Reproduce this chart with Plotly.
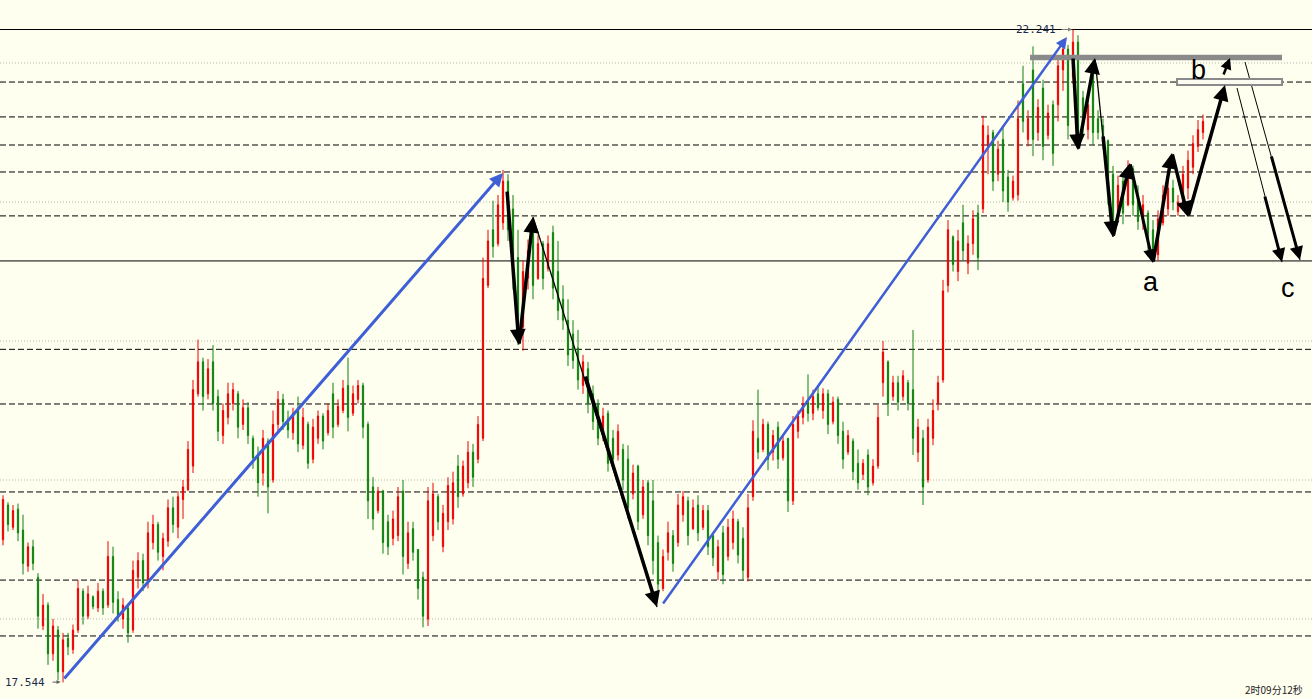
import plotly.graph_objects as go

# ---------------- data (price candles, bar index = position) ----------------
opens = [
18.57,18.82,18.66,18.79,18.64,18.38,18.52,18.30,17.95,18.10,
17.75,17.92,17.62,17.86,17.78,17.92,18.20,18.02,18.16,18.08,
18.20,18.10,18.45,18.14,18.00,18.08,17.92,18.30,18.42,18.28,
18.55,18.68,18.45,18.56,18.80,18.66,18.86,18.93,19.10,19.62,
19.85,19.62,19.85,19.60,19.32,19.45,19.55,19.62,19.40,19.52,
19.30,19.18,19.05,19.28,19.00,19.40,19.58,19.44,19.34,19.50,
19.25,19.40,19.15,19.30,19.46,19.34,19.62,19.40,19.50,19.68,
19.48,19.58,19.68,19.40,18.95,18.78,18.92,18.70,18.58,18.60,
18.92,18.40,18.65,18.50,18.30,18.00,18.60,18.88,18.52,18.70,
18.72,19.10,18.90,18.98,19.20,19.15,19.30,20.40,20.80,20.70,
20.85,21.15,20.95,20.60,20.10,20.45,20.78,20.45,20.70,20.52,
20.78,20.50,20.30,20.15,20.05,19.95,19.68,19.80,19.62,19.55,
19.32,19.48,19.30,19.18,19.22,19.15,18.90,19.10,18.75,18.98,
18.85,18.55,18.22,18.48,18.60,18.55,18.75,18.85,18.65,18.82,
18.66,18.78,18.60,18.34,18.62,18.45,18.55,18.70,18.58,18.30,
18.88,19.30,19.22,19.40,19.20,19.38,19.16,19.30,18.85,19.35,
19.45,19.56,19.48,19.62,19.50,19.62,19.42,19.58,19.35,19.20,
19.28,19.12,19.04,19.18,18.98,19.10,19.70,19.85,19.60,19.70,
19.60,19.70,19.65,19.20,19.30,19.00,19.30,19.55,19.72,20.40,
20.75,20.50,20.85,20.56,20.70,20.92,20.95,21.40,21.50,21.20,
21.45,21.18,21.03,21.05,21.85,21.45,21.95,21.50,21.82,21.48,
21.70,21.70,21.95,22.10,21.90,22.15,21.75,21.52,21.95,21.60,
21.55,21.44,21.20,20.92,21.15,20.98,21.24,21.05,20.85,20.92,
20.80,20.62,20.85,20.95,21.10,20.93,20.98,21.10,21.25,21.40,
21.50]

highs = [
18.89,18.84,18.82,18.83,18.75,18.55,18.57,18.33,18.18,18.12,
18.00,17.95,17.90,17.90,17.96,18.28,18.22,18.24,18.17,18.26,
18.22,18.56,18.52,18.20,18.15,18.10,18.42,18.48,18.47,18.70,
18.75,18.70,18.62,18.86,18.88,18.92,19.00,19.28,19.72,20.01,
19.88,19.87,19.97,19.65,19.55,19.70,19.70,19.64,19.58,19.56,
19.32,19.24,19.36,19.30,19.50,19.64,19.62,19.50,19.52,19.60,
19.52,19.42,19.44,19.50,19.48,19.55,19.70,19.58,19.72,19.88,
19.68,19.72,19.70,19.42,19.02,18.95,18.93,18.75,18.78,18.95,
19.00,18.70,18.70,18.50,18.34,18.95,18.98,18.90,18.82,19.02,
19.06,19.18,19.14,19.28,19.26,19.46,20.60,20.80,21.01,21.05,
21.23,21.20,21.05,20.80,20.58,20.73,20.87,20.76,20.72,20.76,
20.83,20.72,20.40,20.30,20.15,20.08,19.90,19.85,19.68,19.58,
19.52,19.50,19.36,19.40,19.26,19.25,19.11,19.11,19.00,19.00,
19.00,18.60,18.50,18.70,18.64,18.90,18.92,18.88,18.86,18.89,
18.82,18.82,18.62,18.57,18.67,18.72,18.78,18.72,18.66,18.90,
19.43,19.65,19.44,19.42,19.36,19.42,19.33,19.30,19.46,19.50,
19.60,19.76,19.65,19.68,19.66,19.65,19.60,19.60,19.42,19.36,
19.30,19.22,19.15,19.22,19.15,19.54,20.00,19.86,19.75,19.75,
19.79,19.72,20.08,19.44,19.36,19.44,19.58,19.75,20.44,20.87,
20.76,20.80,20.98,20.76,20.94,20.98,21.62,21.55,21.52,21.44,
21.55,21.23,21.19,21.73,21.98,21.66,22.12,21.74,21.88,21.70,
21.73,22.05,22.17,22.13,22.241,22.20,21.80,21.78,22.02,21.66,
21.60,21.45,21.26,21.19,21.20,21.30,21.26,21.12,21.05,20.94,
20.87,20.94,21.12,21.16,21.16,21.05,21.26,21.37,21.48,21.59,
21.63]

lows = [
18.53,18.63,18.64,18.56,18.32,18.34,18.35,17.93,17.92,17.67,
17.70,17.56,17.544,17.74,17.75,17.90,17.96,18.00,18.07,18.05,
18.03,18.08,18.04,17.98,17.93,17.83,17.90,18.22,18.20,18.22,
18.50,18.42,18.35,18.52,18.62,18.58,18.72,18.92,19.05,19.60,
19.50,19.58,19.50,19.28,19.26,19.40,19.50,19.30,19.36,19.26,
19.08,18.88,18.96,18.76,18.98,19.35,19.36,19.30,19.29,19.20,
19.22,19.08,19.12,19.26,19.22,19.32,19.30,19.38,19.48,19.35,
19.46,19.55,19.30,18.72,18.64,18.76,18.47,18.46,18.53,18.56,
18.32,18.36,18.42,18.14,17.94,17.95,18.56,18.64,18.48,18.64,
18.68,18.80,18.88,18.94,18.95,19.12,19.28,20.38,20.60,20.68,
20.80,20.72,20.37,19.97,19.93,20.37,20.30,20.44,20.37,20.50,
20.30,20.15,20.08,19.82,19.80,19.65,19.62,19.48,19.36,19.25,
19.28,19.06,19.08,19.14,18.93,18.72,18.86,18.64,18.72,18.53,
18.32,18.17,18.20,18.42,18.34,18.52,18.70,18.53,18.64,18.56,
18.64,18.46,18.38,18.28,18.25,18.42,18.50,18.40,18.28,18.27,
18.85,19.15,19.20,19.07,19.14,19.08,19.14,18.77,18.82,19.30,
19.40,19.42,19.43,19.50,19.44,19.33,19.40,19.26,19.08,19.18,
19.00,18.93,19.00,18.89,18.96,19.08,19.60,19.46,19.57,19.50,
19.57,19.50,19.18,19.13,18.82,18.98,19.25,19.50,19.70,20.35,
20.50,20.43,20.58,20.48,20.62,20.51,20.92,21.20,21.08,21.15,
21.00,20.93,21.01,21.01,21.50,21.40,21.33,21.44,21.30,21.45,
21.26,21.58,21.80,21.45,21.85,21.38,21.48,21.45,21.41,21.45,
21.38,20.98,20.77,20.90,20.84,20.97,20.90,20.80,20.80,20.65,
20.57,20.58,20.83,20.90,20.94,20.90,20.94,21.02,21.20,21.36,
21.45]

closes = [
18.86,18.68,18.78,18.62,18.40,18.52,18.40,18.02,18.10,17.75,
17.95,17.62,17.85,17.80,17.92,18.22,18.02,18.18,18.09,18.20,
18.08,18.45,18.12,18.02,18.10,17.90,18.35,18.42,18.26,18.62,
18.68,18.48,18.58,18.80,18.68,18.88,18.95,19.22,19.65,19.85,
19.60,19.80,19.55,19.35,19.50,19.62,19.65,19.38,19.52,19.32,
19.16,18.98,19.30,18.95,19.40,19.58,19.42,19.36,19.48,19.26,
19.45,19.12,19.38,19.46,19.28,19.50,19.38,19.53,19.66,19.45,
19.62,19.68,19.38,18.85,18.72,18.92,18.55,18.52,18.72,18.88,
18.45,18.62,18.48,18.22,18.02,18.85,18.90,18.70,18.76,18.96,
18.98,18.88,19.10,19.20,19.02,19.40,20.45,20.72,20.68,20.98,
21.15,20.80,20.45,20.05,20.50,20.65,20.40,20.70,20.45,20.70,
20.38,20.22,20.15,19.90,19.86,19.72,19.85,19.55,19.42,19.30,
19.46,19.12,19.15,19.35,19.00,18.80,19.05,18.70,18.95,18.60,
18.42,18.25,18.45,18.62,18.40,18.82,18.88,18.60,18.80,18.62,
18.78,18.52,18.44,18.52,18.32,18.66,18.72,18.46,18.35,18.80,
19.35,19.20,19.40,19.15,19.32,19.15,19.28,18.85,19.40,19.46,
19.55,19.48,19.60,19.52,19.62,19.40,19.56,19.32,19.15,19.32,
19.06,18.98,19.12,18.95,19.10,19.45,19.92,19.55,19.70,19.56,
19.75,19.55,19.30,19.38,18.95,19.38,19.50,19.70,20.36,20.80,
20.55,20.72,20.65,20.70,20.88,20.60,21.55,21.48,21.15,21.38,
21.08,21.00,21.15,21.60,21.58,21.60,21.45,21.68,21.40,21.64,
21.35,21.98,22.10,21.55,22.15,21.45,21.55,21.70,21.50,21.50,
21.43,21.05,20.85,21.12,20.92,21.25,20.98,20.86,20.98,20.70,
20.62,20.88,21.05,21.10,21.00,21.00,21.20,21.30,21.42,21.52,
21.58]

bar_index = list(range(len(closes)))

# horizontal levels
solid_levels = [22.241, 20.576]
dashed_levels = [21.863, 21.612, 21.41, 21.216, 20.90, 19.94, 19.547, 18.914, 18.28, 17.878]
grid_levels = [22.0, 21.0, 20.0, 19.0, 18.0]

# drawn arrows: (tail bar, tail price, head bar, head price, colour, width)
BLUE = "#3f5fd6"
BLACK = "#000000"
arrows = [
    (12, 17.561, 100, 21.209, BLUE, 3),
    (131.8, 18.101, 212.8, 22.187, BLUE, 2.5),
    (100.8, 21.086, 103.2, 19.971, BLACK, 3.5),
    (103.2, 19.971, 106, 20.892, BLACK, 3.5),
    (116.4, 19.755, 130.8, 18.086, BLACK, 3.5),
    (214, 22.043, 215, 21.374, BLACK, 3.5),
    (215, 21.374, 218.4, 22.036, BLACK, 3.5),
    (220, 21.482, 222, 20.748, BLACK, 3.5),
    (222, 20.748, 225.4, 21.281, BLACK, 3.5),
    (225.4, 21.281, 230, 20.561, BLACK, 3),
    (230, 20.561, 233.8, 21.353, BLACK, 3.5),
    (233.8, 21.353, 237, 20.892, BLACK, 3.5),
    (237, 20.892, 244.4, 21.842, BLACK, 3.5),
    (244, 21.906, 245.4, 22.036, BLACK, 2.5),
    (252.3, 21.050, 255.8, 20.568, BLACK, 3),
    (253.6, 21.338, 259.4, 20.583, BLACK, 3),
]
# thin trend lines: (x0, y0, x1, y1, width)
thin_lines = [
    (106, 20.892, 130.8, 18.086, 1.3),
    (218.4, 22.036, 222, 20.748, 1.3),
    (246.8, 21.820, 255.8, 20.568, 1),
    (248.4, 22.007, 259.4, 20.583, 1),
]
wave_labels = [("a", 229.6, 20.424), ("b", 239.0, 21.950), ("c", 257.0, 20.381)]
high_label = ("22.241", 211.0, 22.241)
low_label = ("17.544", 0.0, 17.544)

BG = "#fffff0"

fig = go.Figure()
fig.add_trace(go.Candlestick(
    x=bar_index, open=opens, high=highs, low=lows, close=closes,
    increasing=dict(line=dict(color="#ee0000", width=1), fillcolor="#ee0000"),
    decreasing=dict(line=dict(color="#0f800f", width=1), fillcolor="#0f800f"),
    whiskerwidth=0, hoverinfo="skip", showlegend=False,
))

shapes = []
for lv in grid_levels:
    shapes.append(dict(type="line", xref="paper", x0=0, x1=1, yref="y", y0=lv, y1=lv,
                       line=dict(color="#b4b4a8", width=1, dash="1px,2px"), layer="below"))
for lv in dashed_levels:
    shapes.append(dict(type="line", xref="paper", x0=0, x1=1, yref="y", y0=lv, y1=lv,
                       line=dict(color="#000000", width=1, dash="6px,3px"), layer="below"))
for lv in solid_levels:
    shapes.append(dict(type="line", xref="paper", x0=0, x1=1, yref="y", y0=lv, y1=lv,
                       line=dict(color="#000000", width=1), layer="below"))
for (x0, y0, x1, y1, w) in thin_lines:
    shapes.append(dict(type="line", x0=x0, y0=y0, x1=x1, y1=y1,
                       line=dict(color="#000000", width=w)))
# gray resistance bar and double-line box
shapes.append(dict(type="rect", x0=205.4, x1=255.8, y0=22.020, y1=22.060,
                   fillcolor="#8a8a8a", line=dict(width=0)))
shapes.append(dict(type="rect", x0=234.8, x1=255.8, y0=21.842, y1=21.885,
                   fillcolor="#fbfbf2", line=dict(color="#8a8a8a", width=2)))

annotations = []
for (tx, ty, hx, hy, col, w) in arrows:
    annotations.append(dict(x=hx, y=hy, ax=tx, ay=ty, xref="x", yref="y", axref="x", ayref="y",
                            text="", showarrow=True, arrowhead=2, arrowsize=0.9,
                            arrowwidth=w, arrowcolor=col, standoff=0, startstandoff=0))
for (t, x, y) in wave_labels:
    annotations.append(dict(x=x, y=y, xref="x", yref="y", text=t, showarrow=False,
                            font=dict(family="Liberation Sans, Arial", size=27, color="#000000")))
annotations.append(dict(x=high_label[1], y=high_label[2], xref="x", yref="y", text=high_label[0],
                        showarrow=False, xanchor="right", yanchor="middle",
                        font=dict(family="DejaVu Sans Mono", size=11, color="#1c2a4c")))
annotations.append(dict(x=213.8, y=22.241, ax=211.4, ay=22.241, xref="x", yref="y", axref="x", ayref="y",
                        text="", showarrow=True, arrowhead=2, arrowsize=0.8, arrowwidth=1,
                        arrowcolor="#808080"))
annotations.append(dict(x=low_label[1], y=low_label[2], xref="x", yref="y", text=low_label[0],
                        showarrow=False, xanchor="left", yanchor="middle",
                        font=dict(family="DejaVu Sans Mono", size=11, color="#1c2a4c")))
annotations.append(dict(x=11.5, y=17.546, ax=9.6, ay=17.546, xref="x", yref="y", axref="x", ayref="y",
                        text="", showarrow=True, arrowhead=2, arrowsize=0.8, arrowwidth=1,
                        arrowcolor="#606060"))
annotations.append(dict(x=0.995, y=0.0, xref="paper", yref="paper", text="2时09分12秒",
                        showarrow=False, xanchor="right", yanchor="bottom",
                        font=dict(family="Noto Sans CJK SC", size=10, color="#222222")))

fig.update_layout(
    width=1312, height=699,
    margin=dict(l=0, r=0, t=0, b=0),
    paper_bgcolor=BG, plot_bgcolor=BG,
    boxgap=0.65,
    shapes=shapes, annotations=annotations,
    xaxis=dict(range=[-0.6, 261.8], visible=False, rangeslider=dict(visible=False), fixedrange=True),
    yaxis=dict(range=[17.4245, 22.4532], visible=False, fixedrange=True),
    showlegend=False,
)

fig.write_html("out.html", config=dict(displayModeBar=False),
               post_script="document.body.style.margin='0px';document.body.style.overflow='hidden';document.body.style.background='#fffff0';")
